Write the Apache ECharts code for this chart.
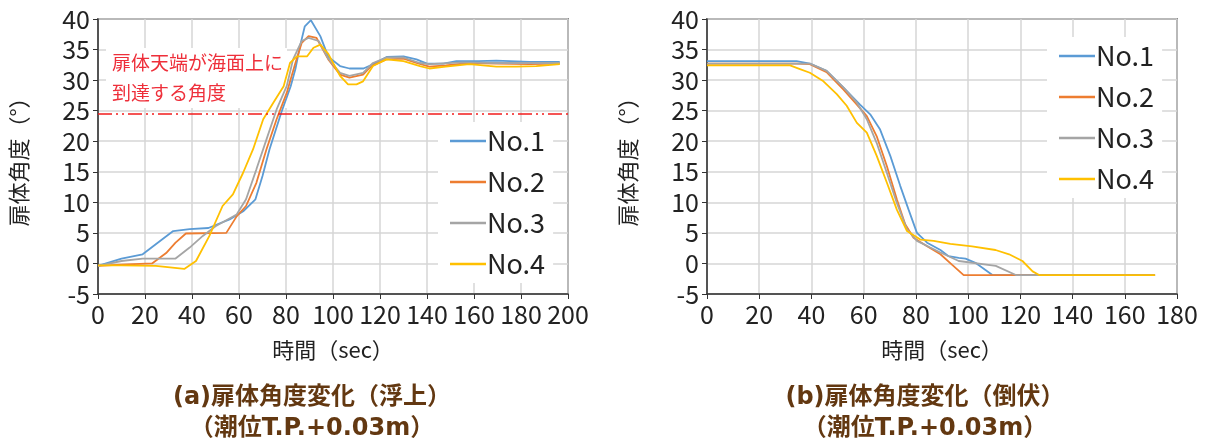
<!DOCTYPE html>
<html>
<head>
<meta charset="utf-8">
<script src="https://cdn.jsdelivr.net/npm/echarts@6/dist/echarts.min.js"></script>
<style>
  html, body { margin: 0; padding: 0; background: #fff; }
  #chart { width: 1205px; height: 445px; }
</style>
</head>
<body>
<div id="chart"></div>
<script>
// 浮上 (a) : [時間 sec, 角度 °]
var riseNo1 = [[0,-0.4],[10,0.8],[19,1.5],[32,5.3],[39,5.6],[47,5.8],[56,7.2],[62,8.6],[67,10.5],[70,14.3],[73,18.7],[78,24.7],[82,29],[84,31.8],[86,35.6],[88,38.8],[90.6,39.8],[94.6,37.2],[98,33.8],[103,32.3],[107,31.9],[113,31.9],[117,32.6],[123,33.8],[130,33.9],[135.5,33.4],[140,32.7],[147,32.7],[152.5,33.1],[162,33.1],[169.5,33.2],[183.7,33.0],[196.5,33.0]];
var riseNo2 = [[0,-0.4],[10,-0.2],[23,0],[29,1.7],[33,3.4],[37.4,4.9],[54.6,5.0],[59,7.7],[63,9.4],[67.4,13.2],[71.7,18.7],[76,23.6],[80.3,27.9],[84,32.8],[86.7,36.1],[89.6,37.2],[93,36.9],[98,33.4],[103,30.9],[107,30.4],[112.8,30.9],[116.3,32.3],[122.7,33.4],[130,33.5],[135.5,32.8],[141,32.2],[148,32.4],[158,32.8],[169.5,32.7],[183.7,32.6],[196.5,32.7]];
var riseNo3 = [[0,-0.4],[10,0.4],[19,0.8],[33,0.8],[39,2.6],[44.6,4.5],[50,6.1],[59,8.0],[63,10.5],[67.4,15.4],[71.7,20.3],[76,25.2],[80.3,29],[83,33.4],[86.7,36.4],[89.6,36.9],[93.9,36.4],[98,33.5],[103,31.2],[107,30.7],[112.8,31.2],[117,32.8],[122.7,33.7],[130,33.7],[137,32.8],[141,32.6],[155,32.9],[169.5,32.8],[183.7,32.8],[196.5,32.8]];
var riseNo4 = [[0,-0.3],[10,-0.3],[24.6,-0.4],[36.7,-0.9],[41.7,0.4],[47.4,4.5],[53,9.4],[57.4,11.3],[61.7,14.8],[66,18.7],[70.3,23.6],[74.6,26.3],[79,29],[81.7,32.8],[84.6,33.9],[89,33.9],[91.7,35.3],[94.6,35.8],[98,34.3],[103,30.7],[106.4,29.3],[110,29.3],[112.8,29.8],[117,32.3],[122.7,33.4],[130,33.1],[137,32.3],[141,31.9],[148,32.2],[158,32.6],[169.5,32.2],[178,32.2],[186.5,32.3],[196.5,32.6]];

// 倒伏 (b)
var fallNo1 = [[0,33.1],[34.3,33.1],[39.4,32.7],[45.8,31.5],[52.2,28.8],[58.6,26.0],[62.5,24.4],[66.3,21.9],[70.2,17.6],[74,12.7],[77.2,8.8],[80.4,5.0],[84.3,3.4],[89.4,2.2],[92.5,1.2],[96.4,0.9],[99,0.8],[102.8,0.1],[109.3,-1.9],[171.6,-1.9]];
var fallNo2 = [[0,32.7],[34.3,32.7],[39.4,32.6],[45.8,31.3],[52.2,28.5],[57.4,26.0],[61.2,24.1],[65,20.8],[68.9,15.9],[72.7,10.5],[75.9,6.4],[79.1,4.2],[84.3,2.8],[89.4,1.5],[93.8,-0.2],[98.3,-1.9],[171.6,-1.9]];
var fallNo3 = [[0,32.7],[34.3,32.7],[39.4,32.7],[45.8,31.5],[52.2,28.8],[57.4,26.3],[61.2,23.6],[65,19.7],[68.9,14.8],[72.7,9.9],[76.6,5.6],[80.4,3.7],[85.5,2.6],[89.4,1.8],[96.4,0.4],[110.6,-0.4],[118.3,-1.9],[171.6,-1.9]];
var fallNo4 = [[0,32.4],[31.8,32.4],[35.6,31.8],[39.4,31.2],[44.6,29.8],[49.7,27.7],[53.5,25.8],[57.4,23.0],[61.2,21.4],[65,17.6],[68.9,13.2],[72.7,8.8],[76.6,5.3],[81.7,3.9],[86.8,3.7],[93.2,3.2],[101.5,2.8],[110.5,2.2],[115.7,1.5],[120.8,0.4],[124.7,-1.3],[127.2,-1.9],[171.6,-1.9]];

var seriesNames = ['No.1', 'No.2', 'No.3', 'No.4'];
var seriesColors = ['#5B9BD5', '#ED7D31', '#A5A5A5', '#FFC000'];
var thresholdAngle = 24.5;   // 扉体天端が海面上に到達する角度
var yTicks = { min: -5, max: 40, interval: 5 };

var FONT = '"Noto Sans CJK JP", "Noto Sans", sans-serif';
var CAP_FONT = '"DejaVu Sans", "Noto Sans CJK JP", sans-serif';
var chart = echarts.init(document.getElementById('chart'));

function makeX(idx, max) {
  return {
    type: 'value', gridIndex: idx, min: 0, max: max, interval: 20,
    name: '時間（sec）', nameLocation: 'middle', nameGap: 45,
    nameTextStyle: { fontFamily: FONT, fontSize: 22, color: '#222' },
    axisLine: { onZero: false, lineStyle: { color: '#333', width: 1.5 } },
    axisTick: { show: true, length: 5, lineStyle: { color: '#333' } },
    axisLabel: { fontFamily: FONT, fontSize: 25, color: '#222', margin: 8 },
    splitLine: { show: true, lineStyle: { color: '#d6d6d6', width: 1.5 } }
  };
}
function makeY(idx) {
  return {
    type: 'value', gridIndex: idx, min: yTicks.min, max: yTicks.max, interval: yTicks.interval,
    name: '扉体角度（°）', nameLocation: 'middle', nameGap: 68, nameRotate: 90,
    nameTextStyle: { fontFamily: FONT, fontSize: 22, color: '#222' },
    axisLine: { show: true, onZero: false, lineStyle: { color: '#333', width: 1.5 } },
    axisTick: { show: true, length: 5, lineStyle: { color: '#333' } },
    axisLabel: { fontFamily: FONT, fontSize: 25, color: '#222', margin: 8 },
    splitLine: { show: true, lineStyle: { color: '#d6d6d6', width: 1.5 } }
  };
}

var riseData = [riseNo1, riseNo2, riseNo3, riseNo4];
var fallData = [fallNo1, fallNo2, fallNo3, fallNo4];
var series = [];
riseData.forEach(function (d, i) {
  var s = {
    name: seriesNames[i], type: 'line', xAxisIndex: 0, yAxisIndex: 0,
    data: d, showSymbol: false, symbol: 'none', z: 3,
    lineStyle: { color: seriesColors[i], width: 1.8 }, itemStyle: { color: seriesColors[i] }
  };
  if (i === 0) {
    s.markLine = {
      silent: true, symbol: 'none', label: { show: false },
      lineStyle: { color: '#f21d1d', width: 1.5, type: [14, 4, 2, 4, 2, 4] },
      data: [{ yAxis: thresholdAngle }]
    };
  }
  series.push(s);
});
fallData.forEach(function (d, i) {
  series.push({
    name: seriesNames[i], type: 'line', xAxisIndex: 1, yAxisIndex: 1,
    data: d, showSymbol: false, symbol: 'none', z: 3,
    lineStyle: { color: seriesColors[i], width: 1.8 }, itemStyle: { color: seriesColors[i] }
  });
});

function makeLegend(left, top) {
  return {
    data: seriesNames, orient: 'vertical', left: left, top: top,
    backgroundColor: '#fff', padding: [4, 8, 4, 12],
    icon: 'rect', itemWidth: 36, itemHeight: 2.5, itemGap: 11,
    textStyle: { fontFamily: FONT, fontSize: 27, color: '#222', lineHeight: 30, padding: [0, 0, 0, -4] }
  };
}

function caption(x, y, text) {
  return {
    type: 'text', x: x, y: y, z: 10,
    style: { text: text, fill: '#633811', font: 'bold 24px ' + CAP_FONT, align: 'center', verticalAlign: 'middle' }
  };
}

chart.setOption({
  animation: false,
  grid: [
    { left: 98, right: 637, top: 19, bottom: 151, show: true, borderColor: '#333', borderWidth: 1.5 },
    { left: 707, right: 28, top: 19, bottom: 151, show: true, borderColor: '#333', borderWidth: 1.5 }
  ],
  xAxis: [makeX(0, 200), makeX(1, 180)],
  yAxis: [makeY(0), makeY(1)],
  legend: [makeLegend(438, 122), makeLegend(1047, 37)],
  series: series,
  graphic: [
    {
      type: 'text', left: 106, top: 48, z: 1,
      style: {
        text: '扉体天端が海面上に\n到達する角度', fill: '#ee2f3a',
        font: '19px ' + FONT, lineHeight: 30,
        backgroundColor: '#fff', padding: [0, 4, 0, 6]
      }
    },
    caption(312, 398, '(a)扉体角度変化（浮上）'),
    caption(312, 429, '（潮位T.P.+0.03m）'),
    caption(925, 398, '(b)扉体角度変化（倒伏）'),
    caption(925, 429, '（潮位T.P.+0.03m）')
  ]
});
</script>
</body>
</html>
